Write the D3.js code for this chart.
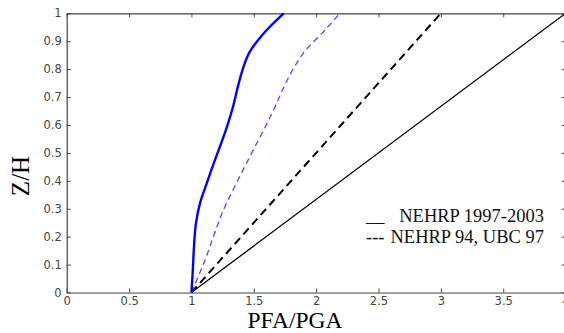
<!DOCTYPE html>
<html><head><meta charset="utf-8">
<script src="https://cdn.jsdelivr.net/npm/d3@7"></script>
<style>
html,body{margin:0;padding:0;background:#fff;}
svg{display:block;}
.tick text{font-family:"DejaVu Sans",sans-serif;font-size:11.5px;fill:#444;}
</style></head>
<body><svg id="c" width="564" height="333"></svg>
<script>
// ---- data ----
const xTicks = [0, 0.5, 1, 1.5, 2, 2.5, 3, 3.5, 4];
const yTicks = [0, 0.1, 0.2, 0.3, 0.4, 0.5, 0.6, 0.7, 0.8, 0.9, 1];
const xLabel = "PFA/PGA";
const yLabel = "Z/H";
// NEHRP 1997-2003 (black solid)
const nehrp97Z = [0, 1];
const nehrp97PFA = [1, 4];
// NEHRP 94, UBC 97 (black dashed)
const nehrp94Z = [0, 1];
const nehrp94PFA = [1, 3];
// blue solid curve
const blueSolidZ   = [0, 0.07, 0.16, 0.25, 0.32, 0.39, 0.475, 0.53, 0.60, 0.67, 0.74, 0.80, 0.86, 0.91, 0.95, 1.0];
const blueSolidPFA = [1.0, 1.01, 1.02, 1.037, 1.069, 1.122, 1.189, 1.235, 1.29, 1.336, 1.374, 1.412, 1.465, 1.545, 1.625, 1.74];
// blue dashed curve
const blueDashZ   = [0, 0.057, 0.116, 0.2, 0.295, 0.391, 0.475, 0.54, 0.60, 0.66, 0.73, 0.80, 0.87, 0.93, 1.0];
const blueDashPFA = [1.0, 1.055, 1.109, 1.176, 1.256, 1.36, 1.455, 1.53, 1.6, 1.665, 1.735, 1.815, 1.92, 2.05, 2.19];
const legendMarkers = ["__", "---"];
const legendLabels = ["NEHRP 1997-2003", "NEHRP 94, UBC 97"];

// ---- layout ----
const L = 66.7, R = 565.6, T = 13.3, B = 292.5;
const svg = d3.select("#c");
const x = d3.scaleLinear().domain([0, 4]).range([L, R]);
const y = d3.scaleLinear().domain([0, 1]).range([B, T]);

const zip = (xs, zs) => xs.map((v, i) => [v, zs[i]]);
const line = d3.line().x(d => x(d[0])).y(d => y(d[1]));
const curve = d3.line().x(d => x(d[0])).y(d => y(d[1])).curve(d3.curveMonotoneY);

// axes
const fmt = d => d3.format("")(d);
const gx = svg.append("g").attr("transform", `translate(0,${B})`)
  .call(d3.axisBottom(x).tickValues(xTicks).tickFormat(fmt).tickSizeInner(-4).tickSizeOuter(0).tickPadding(3));
const gy = svg.append("g").attr("transform", `translate(${L},0)`)
  .call(d3.axisLeft(y).tickValues(yTicks).tickFormat(fmt).tickSizeInner(-4).tickSizeOuter(0).tickPadding(5));
const gt = svg.append("g").attr("transform", `translate(0,${T})`)
  .call(d3.axisTop(x).tickValues(xTicks).tickFormat("").tickSizeInner(-4).tickSizeOuter(0));
const gr = svg.append("g").attr("transform", `translate(${R},0)`)
  .call(d3.axisRight(y).tickValues(yTicks).tickFormat("").tickSizeInner(-4).tickSizeOuter(0));
[gx, gy, gt, gr].forEach(g => {
  g.selectAll(".domain").attr("stroke", "#444").attr("stroke-width", 1.2);
  g.selectAll(".tick line").attr("stroke", "#444");
});
gx.selectAll(".tick text").attr("dy", "0.8em");

// series
svg.append("path").datum(zip(nehrp97PFA, nehrp97Z)).attr("d", line)
  .attr("fill", "none").attr("stroke", "#000").attr("stroke-width", 1.3);
svg.append("path").datum(zip(nehrp94PFA, nehrp94Z)).attr("d", line)
  .attr("fill", "none").attr("stroke", "#000").attr("stroke-width", 2).attr("stroke-dasharray", "8,5");
svg.append("path").datum(zip(blueDashPFA, blueDashZ)).attr("d", curve)
  .attr("fill", "none").attr("stroke", "#4a4aff").attr("stroke-width", 1.3).attr("stroke-dasharray", "6,4");
svg.append("path").datum(zip(blueSolidPFA, blueSolidZ)).attr("d", curve)
  .attr("fill", "none").attr("stroke", "#0000ff").attr("stroke-width", 2.4);

// axis labels
svg.append("text").attr("x", 295).attr("y", 327.5).attr("text-anchor", "middle")
  .attr("font-family", "Liberation Serif, Times New Roman, serif").attr("font-size", 23.5).attr("fill", "#000")
  .text(xLabel);
svg.append("text").attr("transform", "translate(29,176) rotate(-90)").attr("text-anchor", "middle")
  .attr("font-family", "Liberation Serif, Times New Roman, serif").attr("font-size", 25).attr("fill", "#000")
  .text(yLabel);

// legend
const leg = svg.append("g").attr("font-family", "Liberation Serif, Times New Roman, serif")
  .attr("font-size", 18.5).attr("fill", "#111");
leg.selectAll("text.mk").data(legendMarkers).enter().append("text").attr("class", "mk")
  .attr("x", 366).attr("y", (d, i) => 222 + i * 21).text(d => d);
leg.selectAll("text.lb").data(legendLabels).enter().append("text").attr("class", "lb")
  .attr("x", 544).attr("y", (d, i) => 222 + i * 21).attr("text-anchor", "end").text(d => d);
</script></body></html>
